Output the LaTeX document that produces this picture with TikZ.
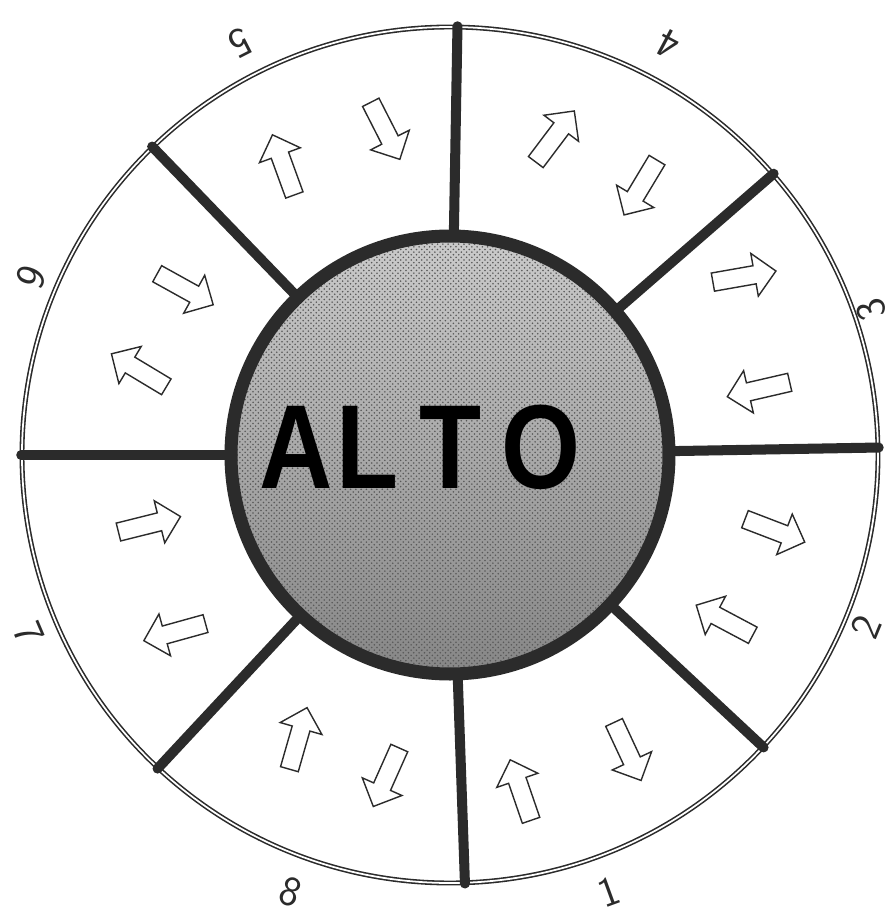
\documentclass[tikz,border=0pt]{standalone}
\usepackage{fontspec}
\newfontfamily\lettering{Liberation Sans}
\usepackage{tikz}
\usetikzlibrary{shapes.arrows,patterns}
\definecolor{ink}{HTML}{2B2B2B}
\definecolor{stipple}{HTML}{A8A8A8}
\tikzset{
  rim/.style={circle,draw=ink,double,line width=0.9pt,double distance=1.0pt,
    minimum size=17.12cm,inner sep=0pt},
  hub/.style={circle,draw=ink,line width=7.4pt,minimum size=8.76cm,inner sep=0pt,
    preaction={top color=stipple!60,bottom color=stipple!80!black},
    pattern=crosshatch dots,pattern color=black!65},
  divider/.style={draw=ink,line width=5.7pt,line cap=round}
}

\begin{document}
\begin{tikzpicture}[
  flow/.style={single arrow,draw=ink,fill=white,line width=0.8pt,
    minimum height=1.28cm,inner xsep=0pt,inner ysep=0.17cm,
    single arrow head extend=0.25cm},
  seglabel/.style={font=\sffamily\fontsize{24}{26}\selectfont,text=ink,inner sep=0pt},
  hubtext/.style={font=\lettering\bfseries\fontsize{68}{70}\selectfont,text=black,
    inner sep=0pt,xscale=0.85}
]
  \useasboundingbox (-9.0,-9.28) rectangle (8.92,9.10);
  \node[rim] (rim) at (0,0) {};
  \node[hub] (hub) at (0,0) {};
  \foreach \a in {1,41,89,134.5,180.5,227,272,317}
    \draw[divider] (hub.\a) -- (rim.\a);
  \node[hubtext,anchor=base] (alto) at (-0.6,-0.66)
    {A\kern0.08cm L\kern0.5cm T\kern0.45cm O};

  \foreach \k/\ang/\rad/\dir in {1i/-78/6.94/109, 1o/-59/6.82/-65,
      2i/-31/6.50/152, 2o/-13/6.58/-21, 3i/12/6.40/193, 3o/31.5/6.80/10,
      4i/54.6/6.66/239, 4o/72/6.62/53, 5i/101.5/6.70/-63, 5o/120/6.60/110,
      6i/148/6.34/-29, 6o/165/6.36/149, 7i/193/6.26/14, 7o/213/6.46/195.5,
      8i/242/6.52/74, 8o/259/6.48/246}
    \node[flow,rotate=\dir] (flow\k) at (\ang:\rad) {};

  \foreach \num/\ang/\rad in {1/-70/9.3,2/-22.5/9.0,3/19/8.9,4/62/9.3,
      5/117/9.25,6/157/9.1,7/203/9.15,8/250/9.3}
    \node[seglabel,rotate=\ang+90] (seg\num) at (\ang:\rad) {\num};
\end{tikzpicture}
\end{document}
